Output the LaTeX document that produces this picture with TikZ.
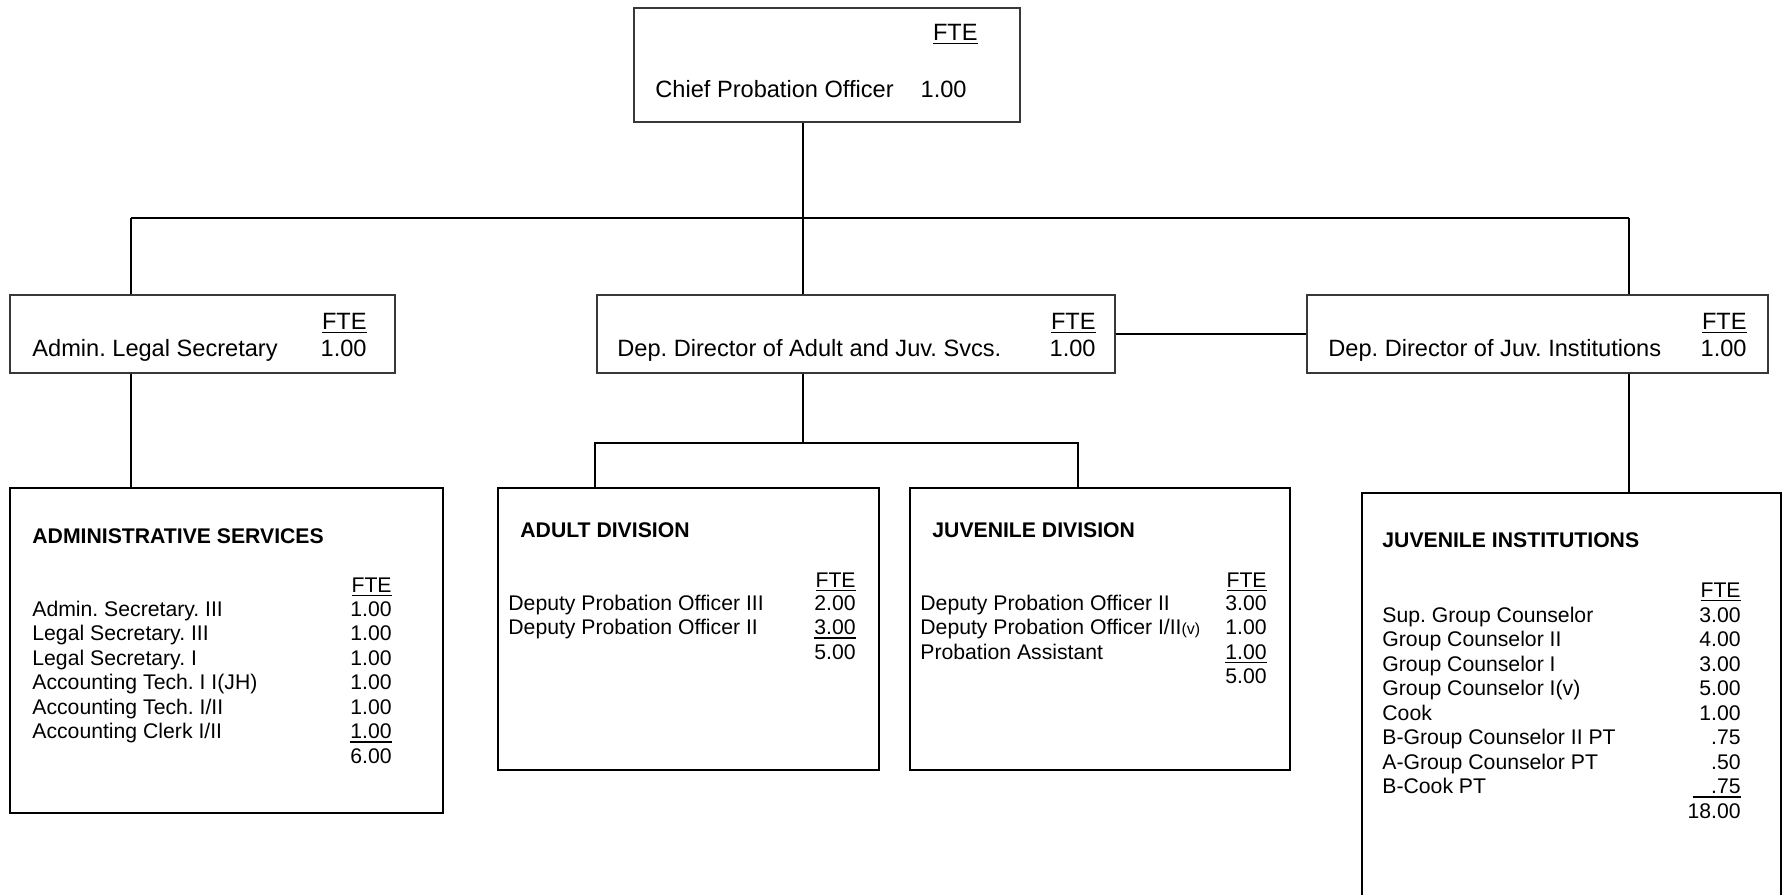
\documentclass[tikz,border=0pt]{standalone}
\usepackage{fontspec}
\setmainfont{Liberation Sans}
\frenchspacing
\newcommand\myul[1]{\setbox0\hbox{#1}\rlap{\rule[-2.2pt]{\wd0}{0.9pt}}\box0}
\begin{document}
\begin{tikzpicture}[x=0.5pt,y=-0.5pt,
  upbox/.style={draw=black!78,line width=1pt,rectangle,inner sep=0pt},
  lowbox/.style={draw=black,line width=1pt,rectangle,inner sep=0pt},
  conn/.style={draw=black,line width=1pt},
  bigl/.style={anchor=base west,inner sep=0pt,font=\fontsize{11.8}{14}\selectfont\frenchspacing},
  bigr/.style={anchor=base east,inner sep=0pt,font=\fontsize{11.8}{14}\selectfont},
  sml/.style={anchor=base west,inner sep=0pt,font=\fontsize{10.6}{12}\selectfont\frenchspacing},
  smr/.style={anchor=base east,inner sep=0pt,font=\fontsize{10.6}{12}\selectfont},
  ttl/.style={anchor=base west,inner sep=0pt,font=\fontsize{10.6}{12}\selectfont\bfseries}]
\useasboundingbox (0,0) rectangle (1782,894);
% boxes
\node[upbox,minimum width=193pt,minimum height=57pt] (chief) at (827,65) {};
\node[upbox,minimum width=192.5pt,minimum height=39pt] (als) at (202.5,334) {};
\node[upbox,minimum width=259pt,minimum height=39pt] (dd) at (856,334) {};
\node[upbox,minimum width=230.5pt,minimum height=39pt] (jd) at (1537.5,334) {};
\node[lowbox,minimum width=216.5pt,minimum height=162.5pt] (as) at (226.5,650.5) {};
\node[lowbox,minimum width=190.5pt,minimum height=141pt] (ad) at (688.5,629) {};
\node[lowbox,minimum width=190pt,minimum height=141pt] (jv) at (1100,629) {};
\node[lowbox,minimum width=209.5pt,minimum height=230pt] (ji) at (1571.5,723) {};
% connectors
\coordinate (spine) at (803,0);
\coordinate (busL) at (131,218);
\coordinate (busR) at (1629,218);
\coordinate (split) at (803,443);
\coordinate (adTop) at (595,443);
\coordinate (jvTop) at (1078,443);
\draw[conn] (chief.south -| spine) -- (dd.north -| spine);
\draw[conn] (busL) -- (busR);
\draw[conn] (busL) -- (als.north -| busL);
\draw[conn] (busR) -- (jd.north -| busR);
\draw[conn] (dd.east) -- (jd.west);
\draw[conn] (als.south -| busL) -- (as.north -| busL);
\draw[conn] (dd.south -| spine) -- (split);
\draw[conn] (ad.north -| adTop) -- (adTop) -- (jvTop) -- (jv.north -| jvTop);
\draw[conn] (jd.south -| busR) -- (ji.north -| busR);
% chief text
\node[bigr] (chf) at (978,40) {\myul{FTE}};
\node[bigl] (cht) at (655,97) {Chief Probation Officer};
\node[bigr] (chn) at (967,97) {1.00};
% level 2 text
\node[bigr] (alsf) at (367,329) {\myul{FTE}};
\node[bigl] (alst) at (32,356) {Admin. Legal Secretary};
\node[bigr] (alsn) at (367,356) {1.00};
\node[bigr] (ddf) at (1096,329) {\myul{FTE}};
\node[bigl] (ddt) at (617,356) {Dep. Director of Adult and Juv. Svcs.};
\node[bigr] (ddn) at (1096,356) {1.00};
\node[bigr] (jdf) at (1747,329) {\myul{FTE}};
\node[bigl] (jdt) at (1328,356) {Dep. Director of Juv. Institutions};
\node[bigr] (jdn) at (1747,356) {1.00};
% administrative services
\node[ttl] (ast) at (32,543) {ADMINISTRATIVE SERVICES};
\node[smr] (asf) at (392,592) {\myul{FTE}};
\node[sml] (as1) at (32,616) {Admin. Secretary. III};
\node[smr] (asn1) at (392,616) {1.00};
\node[sml] (as2) at (32,640.5) {Legal Secretary. III};
\node[smr] (asn2) at (392,640.5) {1.00};
\node[sml] (as3) at (32,665) {Legal Secretary. I};
\node[smr] (asn3) at (392,665) {1.00};
\node[sml] (as4) at (32,689.5) {Accounting Tech. I I(JH)};
\node[smr] (asn4) at (392,689.5) {1.00};
\node[sml] (as5) at (32,714) {Accounting Tech. I/II};
\node[smr] (asn5) at (392,714) {1.00};
\node[sml] (as6) at (32,738.5) {Accounting Clerk I/II};
\node[smr] (asn6) at (392,738.5) {\myul{1.00}};
\node[smr] (ast6) at (392,763) {6.00};
% adult division
\node[ttl] (adt) at (520,537) {ADULT DIVISION};
\node[smr] (adf) at (856,587) {\myul{FTE}};
\node[sml] (ad1) at (508,610) {Deputy Probation Officer III};
\node[smr] (adn1) at (856,610) {2.00};
\node[sml] (ad2) at (508,634.5) {Deputy Probation Officer II};
\node[smr] (adn2) at (856,634.5) {\myul{3.00}};
\node[smr] (adtot) at (856,659) {5.00};
% juvenile division
\node[ttl] (jvt) at (932,537) {JUVENILE DIVISION};
\node[smr] (jvf) at (1267,587) {\myul{FTE}};
\node[sml] (jv1) at (920,610) {Deputy Probation Officer II};
\node[smr] (jvn1) at (1267,610) {3.00};
\node[sml] (jv2) at (920,634.5) {Deputy Probation Officer I/II{\fontsize{8}{9}\selectfont(v)}};
\node[smr] (jvn2) at (1267,634.5) {1.00};
\node[sml] (jv3) at (920,659) {Probation Assistant};
\node[smr] (jvn3) at (1267,659) {\myul{1.00}};
\node[smr] (jvtot) at (1267,683.5) {5.00};
% juvenile institutions
\node[ttl] (jit) at (1382,547) {JUVENILE INSTITUTIONS};
\node[smr] (jif) at (1741,597) {\myul{FTE}};
\node[sml] (ji1) at (1382,622) {Sup. Group Counselor};
\node[smr] (jin1) at (1741,622) {3.00};
\node[sml] (ji2) at (1382,646.5) {Group Counselor II};
\node[smr] (jin2) at (1741,646.5) {4.00};
\node[sml] (ji3) at (1382,671) {Group Counselor I};
\node[smr] (jin3) at (1741,671) {3.00};
\node[sml] (ji4) at (1382,695.5) {Group Counselor I(v)};
\node[smr] (jin4) at (1741,695.5) {5.00};
\node[sml] (ji5) at (1382,720) {Cook};
\node[smr] (jin5) at (1741,720) {1.00};
\node[sml] (ji6) at (1382,744.5) {B-Group Counselor II PT};
\node[smr] (jin6) at (1741,744.5) {.75};
\node[sml] (ji7) at (1382,769) {A-Group Counselor PT};
\node[smr] (jin7) at (1741,769) {.50};
\node[sml] (ji8) at (1382,793.5) {B-Cook PT};
\node[smr] (jin8) at (1741,793.5) {\myul{\makebox[24pt][r]{.75}}};
\node[smr] (jitot) at (1741,818) {18.00};
\end{tikzpicture}
\end{document}
